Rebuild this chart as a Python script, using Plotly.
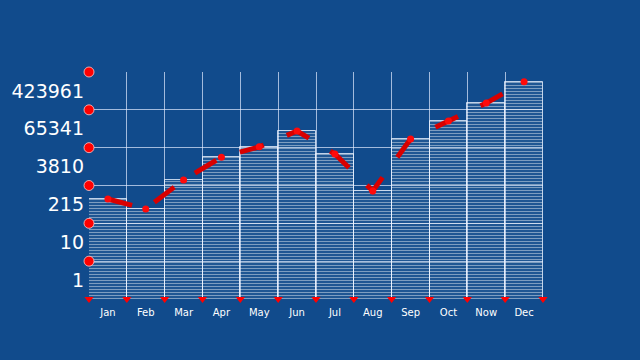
import plotly.graph_objects as go

months = ["Jan", "Feb", "Mar", "Apr", "May", "Jun", "Jul", "Aug", "Sep", "Oct", "Now", "Dec"]
values = [440, 240, 1400, 5600, 10500, 27500, 6800, 720, 17000, 51000, 151000, 550000]
y_tick_labels = ["1", "10", "215", "3810", "65341", "423961"]
y_tick_pos = [10 ** 0.5, 10 ** 1.5, 10 ** 2.5, 10 ** 3.5, 10 ** 4.5, 10 ** 5.5]
y_grid = [1, 10, 100, 1000, 10000, 100000, 1000000]
y_dots = [10, 100, 1000, 10000, 100000, 1000000]
x_pos = [i + 0.5 for i in range(len(months))]
x_bounds = list(range(len(months) + 1))

BG = "#114b8c"
GRID = "rgba(225,235,255,0.7)"

fig = go.Figure()
fig.add_trace(go.Bar(
    x=x_pos, y=values, width=1,
    marker=dict(
        color="rgba(255,255,255,0.06)",
        line=dict(color="rgba(235,242,255,0.8)", width=1),
        pattern=dict(shape="-", fgcolor="rgba(255,255,255,0.85)", size=3, solidity=0.33),
    ),
    showlegend=False, hoverinfo="skip",
))
fig.add_trace(go.Scatter(
    x=x_pos, y=values, mode="lines+markers",
    line=dict(color="#d80000", width=5, dash="longdash"),
    marker=dict(color="#ff0a0a", size=7),
    showlegend=False, cliponaxis=False,
))
fig.add_trace(go.Scatter(
    x=[0] * len(y_dots), y=y_dots, mode="markers",
    marker=dict(color="#ff0000", size=10, line=dict(color="rgba(255,200,200,0.8)", width=1)),
    showlegend=False, cliponaxis=False, hoverinfo="skip",
))
fig.add_trace(go.Scatter(
    x=x_bounds, y=[1] * len(x_bounds), mode="markers",
    marker=dict(color="#ff0000", size=8, symbol="triangle-down"),
    showlegend=False, cliponaxis=False, hoverinfo="skip",
))

fig.update_layout(
    width=640, height=360,
    paper_bgcolor=BG, plot_bgcolor=BG,
    margin=dict(l=89, r=97, t=72, b=61),
    bargap=0,
    xaxis=dict(
        range=[0, 12], tickmode="array", tickvals=x_pos, ticktext=months,
        showgrid=False, zeroline=False, showline=False, ticks="",
        ticklabelstandoff=6,
        tickfont=dict(family="DejaVu Sans", size=10, color="white"),
        minor=dict(tickmode="array", tickvals=x_bounds, showgrid=True, gridcolor=GRID, gridwidth=1, ticks=""),
    ),
    yaxis=dict(
        type="log", range=[0, 6], tickmode="array", tickvals=y_tick_pos, ticktext=y_tick_labels,
        showgrid=False, zeroline=False, showline=False, ticks="",
        ticklabelstandoff=4,
        tickfont=dict(family="DejaVu Sans", size=19, color="white"),
        minor=dict(tickmode="array", tickvals=y_grid, showgrid=True, gridcolor=GRID, gridwidth=1, ticks=""),
    ),
)

fig.write_html(
    "out.html",
    config={"displayModeBar": False},
    post_script="document.body.style.margin='0';document.body.style.overflow='hidden';",
)
